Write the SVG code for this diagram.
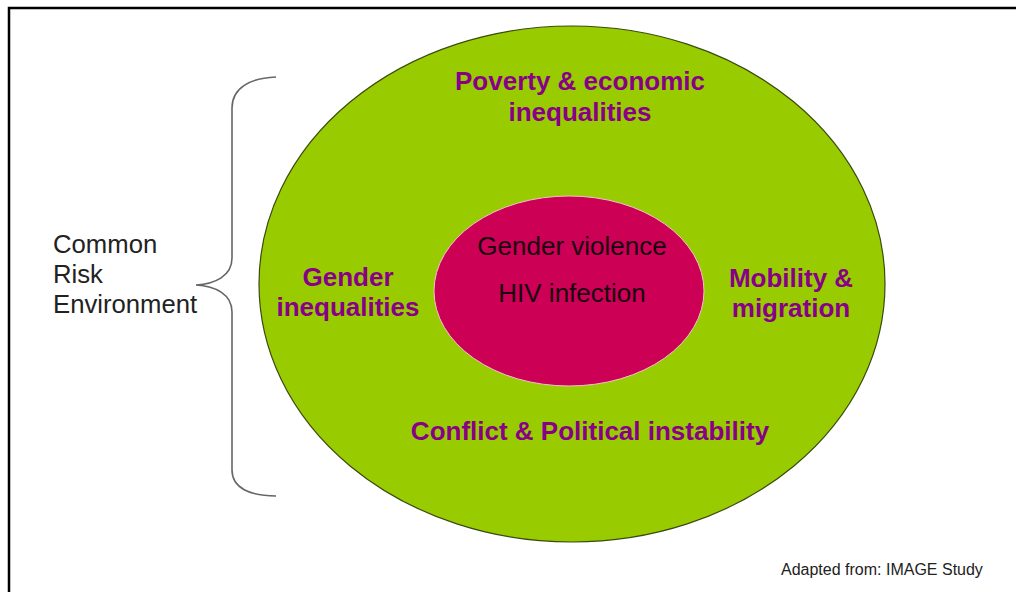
<svg xmlns="http://www.w3.org/2000/svg" width="1016" height="592" viewBox="0 0 1016 592">
<style>
.outer{fill:#99CC00;stroke:#3a4a10;stroke-width:1.2}
.inner{fill:#CC0055;stroke:#f0c0d0;stroke-width:1}
.lbl{font-family:"Liberation Sans",Arial,sans-serif;font-weight:bold;font-size:26px;fill:#880088;text-anchor:middle}
.in{font-family:"Liberation Sans",Arial,sans-serif;font-size:26px;fill:#1a0010;text-anchor:middle}
.side{font-family:"Liberation Sans",Arial,sans-serif;font-size:25.7px;fill:#222}
.note{font-family:"Liberation Sans",Arial,sans-serif;font-size:16px;fill:#222}
</style>
<rect width="1016" height="592" fill="#fff"/>
<path d="M9 592 V8 H1016" fill="none" stroke="#000" stroke-width="2.5"/>
<g id="brace">
<path d="M276 77 C250 78 232 88 232 108 V258 C232 276 215 284 196 285 C215 286 232 294 232 312 V470 C232 488 250 496 276 496" fill="none" stroke="#666" stroke-width="1.6"/>
</g>
<g id="common-risk-environment">
<text class="side" x="53" y="253">Common</text>
<text class="side" x="53" y="283">Risk</text>
<text class="side" x="53" y="313">Environment</text>
</g>
<g id="outer-ellipse">
<ellipse class="outer" cx="572" cy="284" rx="313" ry="258"/>
</g>
<g id="poverty">
<text class="lbl" x="580" y="90">Poverty &amp; economic</text>
<text class="lbl" x="580" y="121">inequalities</text>
</g>
<g id="gender-inequalities">
<text class="lbl" x="348" y="286">Gender</text>
<text class="lbl" x="348" y="316">inequalities</text>
</g>
<g id="mobility">
<text class="lbl" x="791" y="287">Mobility &amp;</text>
<text class="lbl" x="791" y="317">migration</text>
</g>
<g id="conflict">
<text class="lbl" x="590" y="440">Conflict &amp; Political instability</text>
</g>
<g id="inner-ellipse">
<ellipse class="inner" cx="569" cy="291" rx="135" ry="95"/>
<text class="in" x="572" y="255">Gender violence</text>
<text class="in" x="572" y="302">HIV infection</text>
</g>
<g id="source">
<text class="note" x="781" y="575">Adapted from: IMAGE Study</text>
</g>
<g id="connectors"/>
</svg>
